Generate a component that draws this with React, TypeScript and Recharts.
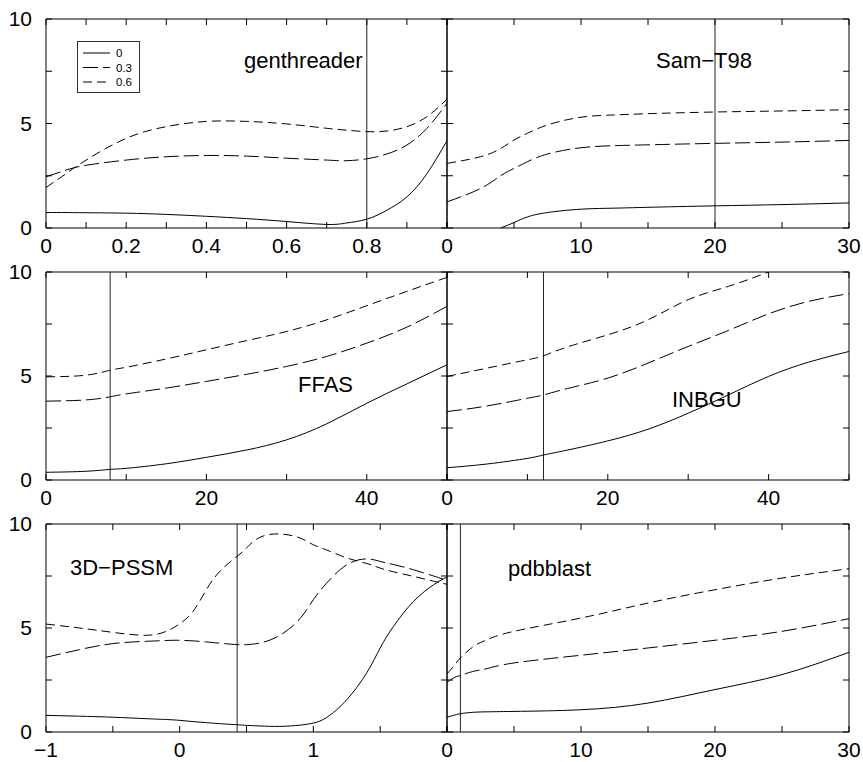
import { Legend, Line, LineChart, ReferenceArea, ReferenceLine, XAxis, YAxis } from 'recharts'

const W = 863
const H = 762
const FONT = '"Liberation Sans", Arial, Helvetica, sans-serif'

// genthreader
const GEN_X = [0, 0.05, 0.1, 0.2, 0.3, 0.4, 0.5, 0.6, 0.7, 0.75, 0.8, 0.85, 0.9, 0.95, 1]
const GEN_0 = [0.74, 0.74, 0.73, 0.71, 0.65, 0.56, 0.45, 0.31, 0.17, 0.24, 0.42, 0.85, 1.49, 2.6, 4.18]
const GEN_03 = [2.45, 2.77, 3.0, 3.25, 3.41, 3.47, 3.44, 3.34, 3.25, 3.22, 3.31, 3.54, 3.97, 4.77, 5.97]
const GEN_06 = [1.94, 2.6, 3.25, 4.29, 4.85, 5.1, 5.1, 4.98, 4.77, 4.68, 4.61, 4.64, 4.85, 5.33, 6.16]

// Sam-T98
const SAM_X = [0, 2.5, 4, 5, 6, 7.5, 10, 12.5, 15, 20, 25, 30]
const SAM_0 = [null, null, 0, 0.26, 0.53, 0.74, 0.9, 0.95, 0.99, 1.06, 1.12, 1.2]
const SAM_03 = [1.25, 1.89, 2.5, 2.85, 3.17, 3.54, 3.84, 3.94, 3.98, 4.05, 4.11, 4.19]
const SAM_06 = [3.09, 3.41, 3.8, 4.21, 4.53, 4.93, 5.3, 5.41, 5.47, 5.55, 5.6, 5.66]

// FFAS
const FFAS_X = [0, 5, 8, 10, 15, 20, 25, 30, 35, 40, 45, 50]
const FFAS_0 = [0.37, 0.42, 0.51, 0.56, 0.78, 1.09, 1.44, 1.93, 2.7, 3.69, 4.62, 5.54]
const FFAS_03 = [3.79, 3.85, 4.0, 4.14, 4.42, 4.74, 5.08, 5.46, 5.94, 6.58, 7.35, 8.35]
const FFAS_06 = [4.96, 5.04, 5.28, 5.42, 5.82, 6.26, 6.7, 7.14, 7.7, 8.38, 9.07, 9.74]

// INBGU
const INB_X = [0, 5, 10, 12, 15, 20, 25, 30, 35, 40, 45, 50]
const INB_0 = [0.59, 0.77, 1.04, 1.2, 1.44, 1.88, 2.44, 3.21, 4.09, 4.98, 5.67, 6.18]
const INB_03 = [3.29, 3.56, 3.93, 4.09, 4.4, 4.9, 5.62, 6.42, 7.19, 7.99, 8.59, 8.96]
const INB_06 = [4.98, 5.38, 5.78, 5.97, 6.4, 6.98, 7.7, 8.67, 9.31, 10.0, null, null]

// 3D-PSSM
const PSSM_X = [-1, -0.75, -0.5, -0.25, -0.1, 0, 0.1, 0.2, 0.3, 0.43, 0.5, 0.6, 0.75, 0.9, 1, 1.1, 1.25, 1.4, 1.5, 1.6, 1.75, 1.9, 2]
const PSSM_0 = [0.8, 0.76, 0.71, 0.64, 0.6, 0.56, 0.5, 0.45, 0.4, 0.35, 0.32, 0.29, 0.27, 0.33, 0.43, 0.7, 1.55, 2.85, 4.04, 5.08, 6.28, 7.08, 7.45]
const PSSM_03 = [3.59, 3.96, 4.25, 4.36, 4.4, 4.41, 4.38, 4.33, 4.27, 4.2, 4.2, 4.28, 4.65, 5.45, 6.36, 7.16, 8.04, 8.32, 8.2, 8.05, 7.8, 7.5, 7.3]
const PSSM_06 = [5.19, 5.0, 4.79, 4.65, 4.84, 5.2, 5.8, 6.84, 7.72, 8.45, 8.85, 9.36, 9.52, 9.33, 9.0, 8.75, 8.37, 8.1, 7.88, 7.7, 7.48, 7.25, 7.1]

// pdbblast
const PDB_X = [0, 0.5, 1, 2, 3, 5, 10, 15, 20, 25, 30]
const PDB_0 = [0.72, 0.8, 0.88, 0.95, 0.97, 0.99, 1.07, 1.39, 2.04, 2.76, 3.83]
const PDB_03 = [2.39, 2.6, 2.72, 2.92, 3.05, 3.32, 3.69, 4.04, 4.41, 4.84, 5.45]
const PDB_06 = [2.8, 3.16, 3.56, 4.12, 4.44, 4.84, 5.48, 6.2, 6.84, 7.4, 7.85]

const Y_TICKS = [0, 2.5, 5, 7.5, 10]
const Y_LABELS = [0, 5, 10]

const SERIES = [
  { key: 's0', name: '0', dash: undefined },
  { key: 's03', name: '0.3', dash: '15 5' },
  { key: 's06', name: '0.6', dash: '9 5' },
]

const rows = (xs: number[], a: (number | null)[], b: (number | null)[], c: (number | null)[]) =>
  xs.map((x, i) => ({ x, s0: a[i], s03: b[i], s06: c[i] }))

const fmt = (v: number) => (v < 0 ? '\u2212' + Math.abs(v) : String(v))

// ticks point inwards on all four sides, gnuplot style
function XTick(props: any) {
  const { x, payload, top, bottom, labels } = props
  const show = labels.includes(payload.value)
  return (
    <g>
      <line x1={x} x2={x} y1={bottom} y2={bottom - 6} stroke="#000" />
      <line x1={x} x2={x} y1={top} y2={top + 6} stroke="#000" />
      {show && (
        <text x={x} y={bottom + 25} textAnchor="middle" fontSize={21} fontFamily={FONT} fill="#000">
          {fmt(payload.value)}
        </text>
      )}
    </g>
  )
}

function YTick(props: any) {
  const { y, payload, left, right, showLabels } = props
  const show = showLabels && Y_LABELS.includes(payload.value)
  return (
    <g>
      <line x1={left} x2={left + 6} y1={y} y2={y} stroke="#000" />
      <line x1={right - 6} x2={right} y1={y} y2={y} stroke="#000" />
      {show && (
        <text x={left - 14} y={y + 7} textAnchor="end" fontSize={21} fontFamily={FONT} fill="#000">
          {payload.value}
        </text>
      )}
    </g>
  )
}

function LegendBox() {
  return (
    <svg width={63} height={52} style={{ display: 'block' }}>
      <rect x={0.5} y={0.5} width={62} height={51} fill="#fff" stroke="#333" />
      {SERIES.map((s, i) => (
        <g key={s.key}>
          <line x1={6} x2={33} y1={12 + i * 14.5} y2={12 + i * 14.5} stroke="#000" strokeDasharray={s.dash} />
          <text x={39} y={16 + i * 14.5} fontSize={11.5} fontFamily={FONT} fill="#000">
            {s.name}
          </text>
        </g>
      ))}
    </svg>
  )
}

function Panel(props: any) {
  const { data, domain, ticks, labels, refX, box, showY, legend } = props
  const [L, T, R, B] = box
  // axes are 1px thick (a zero-size axis is not drawn), so margins give back that pixel
  return (
    <div style={{ position: 'absolute', left: 0, top: 0 }}>
      <LineChart width={W} height={H} data={data} margin={{ top: T, left: L - 1, right: W - R, bottom: H - B - 1 }}>
        <XAxis
          type="number"
          dataKey="x"
          domain={domain}
          ticks={ticks}
          interval={0}
          allowDataOverflow
          height={1}
          axisLine={false}
          tickLine={false}
          tickSize={0}
          tickMargin={0}
          tick={(p: any) => <XTick {...p} top={T} bottom={B} labels={labels} />}
        />
        <YAxis
          type="number"
          domain={[0, 10]}
          ticks={Y_TICKS}
          interval={0}
          allowDataOverflow
          width={1}
          axisLine={false}
          tickLine={false}
          tickSize={0}
          tickMargin={0}
          tick={(p: any) => <YTick {...p} left={L} right={R} showLabels={showY} />}
        />
        <ReferenceArea x1={domain[0]} x2={domain[1]} y1={0} y2={10} fill="none" stroke="#000" strokeWidth={1} />
        <ReferenceLine x={refX} stroke="#222" strokeWidth={1} />
        {SERIES.map((s) => (
          <Line
            key={s.key}
            dataKey={s.key}
            name={s.name}
            type="natural"
            stroke="#000"
            strokeWidth={1}
            strokeDasharray={s.dash}
            dot={false}
            activeDot={false}
            isAnimationActive={false}
          />
        ))}
        {legend && (
          <Legend
            layout="vertical"
            align="center"
            verticalAlign="middle"
            wrapperStyle={{ left: 77, top: 41, width: 63, height: 52 }}
            content={() => <LegendBox />}
          />
        )}
      </LineChart>
    </div>
  )
}

const LABELS = [
  { text: 'genthreader', x: 244, y: 68 },
  { text: 'Sam\u2212T98', x: 656, y: 68 },
  { text: 'FFAS', x: 298, y: 392 },
  { text: 'INBGU', x: 672, y: 407 },
  { text: '3D\u2212PSSM', x: 70, y: 575 },
  { text: 'pdbblast', x: 508, y: 576 },
]

export default function App() {
  return (
    <div style={{ position: 'absolute', left: 0, top: 0, width: W, height: H, background: '#fff' }}>
      <Panel
        data={rows(GEN_X, GEN_0, GEN_03, GEN_06)}
        domain={[0, 1]}
        ticks={[0, 0.1, 0.2, 0.3, 0.4, 0.5, 0.6, 0.7, 0.8, 0.9, 1]}
        labels={[0, 0.2, 0.4, 0.6, 0.8]}
        refX={0.8}
        box={[46, 19, 447, 228]}
        showY
        legend
      />
      <Panel
        data={rows(SAM_X, SAM_0, SAM_03, SAM_06)}
        domain={[0, 30]}
        ticks={[0, 5, 10, 15, 20, 25, 30]}
        labels={[0, 10, 20, 30]}
        refX={20}
        box={[447, 19, 849, 228]}
      />
      <Panel
        data={rows(FFAS_X, FFAS_0, FFAS_03, FFAS_06)}
        domain={[0, 50]}
        ticks={[0, 10, 20, 30, 40, 50]}
        labels={[0, 20, 40]}
        refX={8}
        box={[46, 272, 447, 480]}
        showY
      />
      <Panel
        data={rows(INB_X, INB_0, INB_03, INB_06)}
        domain={[0, 50]}
        ticks={[0, 10, 20, 30, 40, 50]}
        labels={[0, 20, 40]}
        refX={12}
        box={[447, 272, 849, 480]}
      />
      <Panel
        data={rows(PSSM_X, PSSM_0, PSSM_03, PSSM_06)}
        domain={[-1, 2]}
        ticks={[-1, -0.5, 0, 0.5, 1, 1.5, 2]}
        labels={[-1, 0, 1]}
        refX={0.43}
        box={[46, 524, 447, 732]}
        showY
      />
      <Panel
        data={rows(PDB_X, PDB_0, PDB_03, PDB_06)}
        domain={[0, 30]}
        ticks={[0, 5, 10, 15, 20, 25, 30]}
        labels={[0, 10, 20, 30]}
        refX={1}
        box={[447, 524, 849, 732]}
      />
      <svg width={W} height={H} style={{ position: 'absolute', left: 0, top: 0, pointerEvents: 'none' }}>
        {LABELS.map((l) => (
          <text key={l.text} x={l.x} y={l.y} fontSize={22} fontFamily={FONT} fill="#000">
            {l.text}
          </text>
        ))}
      </svg>
    </div>
  )
}
